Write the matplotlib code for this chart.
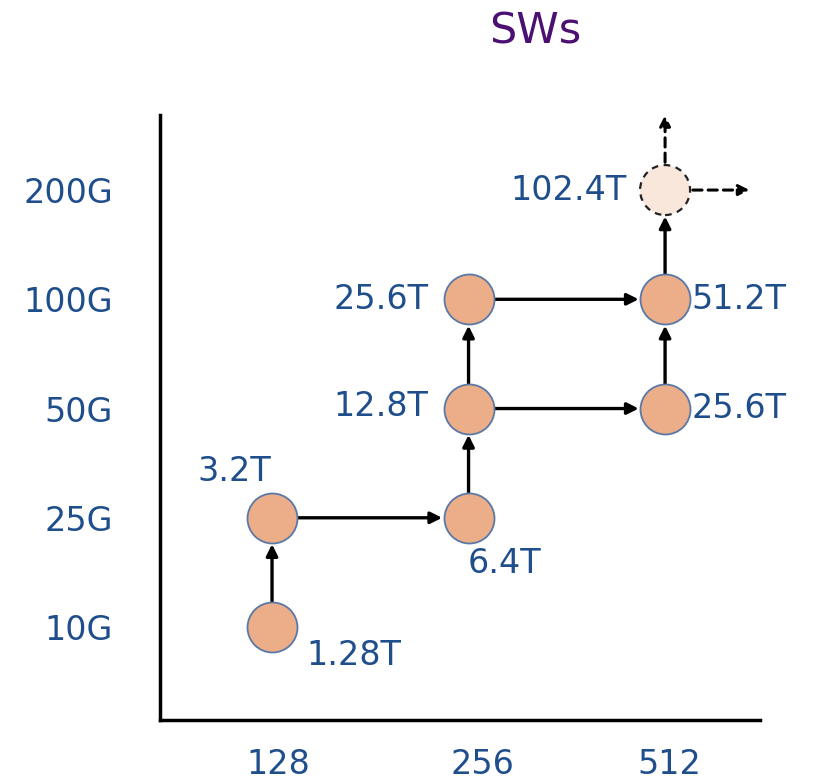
import matplotlib
matplotlib.use("Agg")
import matplotlib.pyplot as plt
from matplotlib.transforms import ScaledTranslation

# Port counts (x) and SerDes speeds (y)
port_counts = ["128", "256", "512"]
serdes_speeds = ["10G", "25G", "50G", "100G", "200G"]

# Switch generations: (port index, speed index, bandwidth label)
node_x = [0, 0, 1, 1, 1, 2, 2]
node_y = [0, 1, 1, 2, 3, 2, 3]
node_labels = ["1.28T", "3.2T", "6.4T", "12.8T", "25.6T", "25.6T", "51.2T"]
future_x, future_y, future_label = 2, 4, "102.4T"

# Evolution steps between nodes (index into node lists)
edges = [(0, 1), (1, 2), (2, 3), (3, 4), (3, 5), (4, 6), (5, 6)]

# Label placement per node: (dx px, dy px, ha, va)
label_pos = [
    (34, -28, "left", "center"),
    (-38, 46, "center", "center"),
    (36, -46, "center", "center"),
    (-40, 2, "right", "center"),
    (-40, 0, "right", "center"),
    (26, 0, "left", "center"),
    (26, 0, "left", "center"),
]

text_blue = "#1F4E8C"
fill = "#EBAE88"
edge_col = "#5A78A6"
FS = 24

fig = plt.figure(figsize=(8.16, 7.81), dpi=100)
ax = fig.add_axes([160 / 816, 61 / 781, 600 / 816, 605 / 781])
ax.set_xlim(-0.57, 2.483)
ax.set_ylim(-0.851, 4.687)

for s in ["top", "right"]:
    ax.spines[s].set_visible(False)
for s in ["left", "bottom"]:
    ax.spines[s].set_linewidth(2.5)
    ax.spines[s].set_color("black")

ax.set_xticks(range(len(port_counts)))
ax.set_xticklabels(port_counts)
ax.set_yticks(range(len(serdes_speeds)))
ax.set_yticklabels(serdes_speeds)
ax.tick_params(length=0, labelsize=FS, colors=text_blue)
ax.tick_params(axis="y", pad=34)
ax.tick_params(axis="x", pad=20)
for lab, dx in zip(ax.get_xticklabels(), [6, 14, 4]):
    lab.set_transform(lab.get_transform() + ScaledTranslation(dx / 100, 0, fig.dpi_scale_trans))

R = 18  # circle radius in points

arrow_kw = dict(arrowstyle="-|>", color="black", lw=2.4,
                mutation_scale=17, shrinkA=R, shrinkB=R + 1)

for a, b in edges:
    ax.annotate("", xy=(node_x[b], node_y[b]), xytext=(node_x[a], node_y[a]),
                arrowprops=arrow_kw, zorder=2)

ax.annotate("", xy=(future_x, future_y), xytext=(node_x[6], node_y[6]),
            arrowprops=arrow_kw, zorder=2)

ax.scatter(node_x, node_y, s=(2 * R) ** 2, c=fill, edgecolors=edge_col,
           linewidths=1.3, zorder=3)

# Next generation, not yet built
ax.scatter([future_x], [future_y], s=(2 * R) ** 2, c="#F9E7DC",
           edgecolors="#222222", linewidths=1.6, linestyles=(0, (3, 2.5)),
           zorder=3)
dashed_kw = dict(arrowstyle="-|>", color="black", lw=2.2, linestyle=(0, (3, 2)),
                 mutation_scale=16, shrinkA=R + 2, shrinkB=0)
ax.annotate("", xy=(future_x, 4.687), xytext=(future_x, future_y),
            arrowprops=dashed_kw, zorder=2, annotation_clip=False)
ax.annotate("", xy=(2.43, future_y), xytext=(future_x, future_y),
            arrowprops=dashed_kw, zorder=2, annotation_clip=False)

for x, y, lab, (dx, dy, ha, va) in zip(node_x, node_y, node_labels, label_pos):
    ax.annotate(lab, (x, y), xytext=(dx * 0.72, dy * 0.72),
                textcoords="offset points", ha=ha, va=va,
                fontsize=FS, color=text_blue)
ax.annotate(future_label, (future_x, future_y), xytext=(-28, 0),
            textcoords="offset points", ha="right", va="center",
            fontsize=FS, color=text_blue)

fig.text(535 / 816, 1 - 32 / 781, "SWs", ha="center", va="center",
         fontsize=31, color="#4B1072")

fig.savefig("out.png", dpi=100)
